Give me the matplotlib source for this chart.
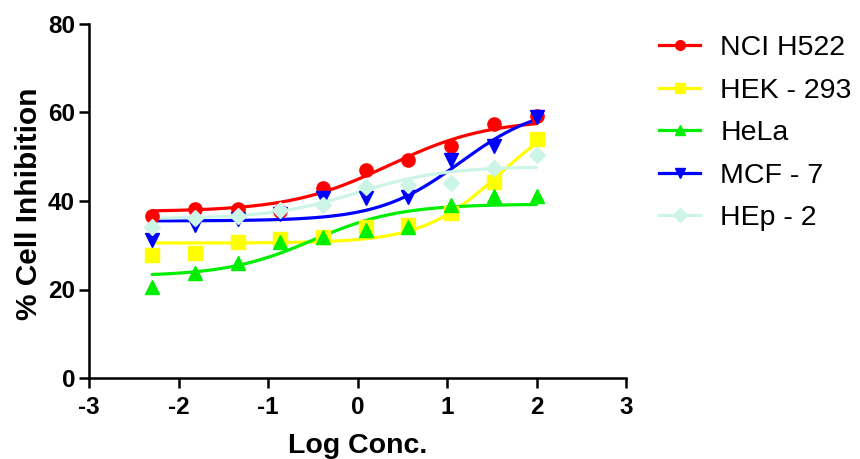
import numpy as np
import matplotlib
matplotlib.use("Agg")
import matplotlib.pyplot as plt
from matplotlib.lines import Line2D

plt.rcParams["axes.unicode_minus"] = False

# ---- data ----
log_conc = [-2.294, -1.817, -1.340, -0.863, -0.386, 0.091, 0.569, 1.046, 1.523, 2.0]
series_names = ["NCI H522", "HEK - 293", "HeLa", "MCF - 7", "HEp - 2"]
nci_h522 = [36.6, 38.1, 38.3, 37.8, 42.9, 47.0, 49.3, 52.4, 57.5, 59.2]
hek_293 = [27.8, 28.3, 30.8, 31.4, 31.9, 34.2, 34.6, 37.2, 44.4, 53.9]
hela = [20.6, 23.7, 25.9, 30.8, 31.9, 33.4, 34.2, 39.1, 41.1, 41.1]
mcf_7 = [31.2, 34.6, 36.0, 37.0, 40.6, 40.6, 40.8, 49.3, 52.4, 59.0]
hep_2 = [34.2, 36.1, 36.5, 38.0, 39.1, 43.2, 43.6, 44.0, 47.4, 50.4]
# fitted 4PL parameters (bottom, top, logEC50, hill slope)
fit_bottom = [37.6, 30.5, 23.0, 35.5, 36.0]
fit_top = [58.5, 61.8, 39.3, 62.0, 47.8]
fit_logec50 = [0.35, 1.59, -0.5, 1.15, 0.0]
fit_hill = [0.78, 1.0, 0.9, 0.95, 0.9]
x_ticks = [-3, -2, -1, 0, 1, 2, 3]
y_ticks = [0, 20, 40, 60, 80]

colors = ["#FF0000", "#FFFF00", "#00EE00", "#0000FF", "#CCF5E8"]
markers = ["o", "s", "^", "v", "D"]
msizes = [9.5, 9.5, 9.5, 9.5, 8.5]
values = [nci_h522, hek_293, hela, mcf_7, hep_2]

FONT = "Liberation Sans"
W, H = 860, 459
fig = plt.figure(figsize=(W / 100, H / 100), dpi=100)
ax = fig.add_axes([89 / W, (H - 378) / H, (626 - 89) / W, (378 - 24) / H])

xs = np.linspace(min(log_conc), max(log_conc), 300)
handles = []
for i in range(5):
    b, t, c, h = fit_bottom[i], fit_top[i], fit_logec50[i], fit_hill[i]
    ys = b + (t - b) / (1 + 10 ** ((c - xs) * h))
    ax.plot(xs, ys, color=colors[i], lw=2.3, zorder=2 + i * 0.1, solid_capstyle="round")
    ax.plot(log_conc, values[i], linestyle="none", marker=markers[i], ms=msizes[i],
            color=colors[i], mec=colors[i], zorder=3 + i * 0.1)
    handles.append(Line2D([0], [0], color=colors[i], lw=2.3, marker=markers[i], ms=7,
                          mec=colors[i]))

ax.set_xlim(-3, 3)
ax.set_ylim(0, 80)
ax.set_xticks(x_ticks)
ax.set_yticks(y_ticks)
ax.set_xticklabels([str(v) for v in x_ticks])
ax.set_yticklabels([str(v) for v in y_ticks])
for s in ["top", "right"]:
    ax.spines[s].set_visible(False)
for s in ["left", "bottom"]:
    ax.spines[s].set_linewidth(1.8)
ax.tick_params(direction="out", length=7, width=1.8, labelsize=17.5)
ax.tick_params(axis="x", pad=6)
ax.tick_params(axis="y", pad=3)
for lab in ax.get_xticklabels() + ax.get_yticklabels():
    lab.set_fontweight("bold")
    lab.set_fontfamily(FONT)

fig.text(357.5 / W, 1 - 453 / H, "Log Conc.", fontsize=20.5, fontweight="bold",
         family=FONT, ha="center", va="baseline")
fig.text(29 / W, 1 - 204 / H, "% Cell Inhibition", fontsize=21.5, fontweight="bold",
         family=FONT, ha="center", va="center", rotation=90)

leg = fig.legend(handles, series_names, loc="upper left", bbox_to_anchor=(659 / W, 1 - 35 / H),
                 frameon=False, prop={"family": FONT, "size": 20.5},
                 handlelength=1.45, handletextpad=0.7, labelspacing=0.58, borderaxespad=0,
                 borderpad=0)
fig.savefig("out.png", dpi=100)
